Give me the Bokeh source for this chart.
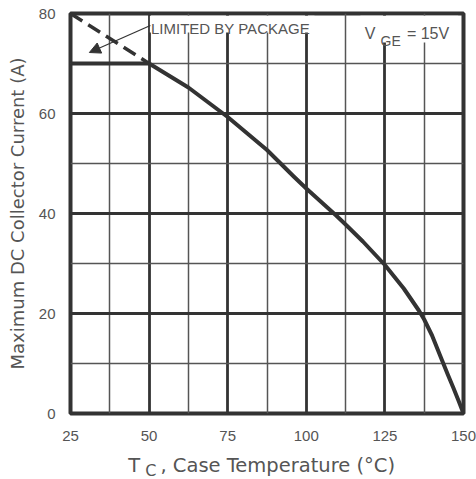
from bokeh.plotting import figure
from bokeh.layouts import column
from bokeh.models import Range1d, FixedTicker, Label, Arrow, NormalHead
from bokeh.embed import file_html
from bokeh.resources import INLINE

# ---- data ----
case_temp_c = [50, 62.5, 75, 87.5, 96, 100, 109.5, 112.5, 118, 125, 131, 135.8,
               137.5, 140, 143.2, 145, 146.8, 148.4, 150]
collector_current_a = [70, 65.2, 59.3, 52.7, 47.4, 45.0, 39.6, 37.8, 34.4, 29.7, 25.0,
                       20.6, 18.8, 15.6, 10.6, 7.8, 5.1, 2.6, 0]
extension_temp_c = [25, 50]
extension_current_a = [80, 70]
package_limit_temp_c = [25, 50]
package_limit_current_a = [70, 70]

x_ticks = [25, 50, 75, 100, 125, 150]
x_minor = [37.5, 62.5, 87.5, 112.5, 137.5]
y_ticks = [0, 20, 40, 60, 80]
y_minor = [10, 30, 50, 70]

INK = "#333333"
TXT = "#555555"

x_range = Range1d(25, 150)
p = figure(width=476, height=445, x_range=x_range, y_range=Range1d(0, 80),
           output_backend="svg", toolbar_location=None,
           min_border_left=70, min_border_right=13, min_border_top=13, min_border_bottom=32)
p.background_fill_color = "white"
p.border_fill_color = "white"
p.outline_line_color = INK
p.outline_line_width = 4

p.xaxis.ticker = FixedTicker(ticks=x_ticks, minor_ticks=x_minor)
p.yaxis.ticker = FixedTicker(ticks=y_ticks, minor_ticks=y_minor)
p.xgrid.ticker = FixedTicker(ticks=x_ticks, minor_ticks=x_minor)
p.ygrid.ticker = FixedTicker(ticks=y_ticks, minor_ticks=y_minor)
for g in (p.xgrid, p.ygrid):
    g.grid_line_color = INK
    g.grid_line_width = 2.8
    g.grid_line_alpha = 1
    g.minor_grid_line_color = "#555555"
    g.minor_grid_line_width = 1.5

for ax in (p.xaxis, p.yaxis):
    ax.axis_line_color = None
    ax.major_tick_line_color = None
    ax.minor_tick_line_color = None
    ax.major_tick_out = 0
    ax.major_label_text_font = "Liberation Sans"
    ax.major_label_text_font_size = "15px"
    ax.major_label_text_color = TXT
p.xaxis.major_label_standoff = 13
p.yaxis.major_label_standoff = 11

p.yaxis.axis_label = "Maximum DC Collector Current (A)"
p.yaxis.axis_label_text_font = "DejaVu Sans"
p.yaxis.axis_label_text_font_size = "18px"
p.yaxis.axis_label_text_font_style = "normal"
p.yaxis.axis_label_text_color = TXT
p.yaxis.axis_label_standoff = 8

# white backgrounds behind the in-plot notes
p.quad(left=[50.25, 117.2], right=[102.6, 148.3], bottom=[76.2, 74.2], top=[79.55, 79.55],
       fill_color="white", line_color=None)

# curves
p.line(case_temp_c, collector_current_a, line_color=INK, line_width=4, line_join="round")
p.line(extension_temp_c, extension_current_a, line_color=INK, line_width=3.5, line_dash="14 7")
p.line(package_limit_temp_c, package_limit_current_a, line_color=INK, line_width=4)

p.add_layout(Arrow(end=NormalHead(size=11, fill_color=INK, line_color=INK, line_width=1),
                   x_start=50.4, y_start=77.6, x_end=31.0, y_end=72.2,
                   line_color=INK, line_width=1.2))

def lab(fig, x, y, text, size, font="Liberation Sans", color=TXT, align="left"):
    fig.add_layout(Label(x=x, y=y, text=text, text_font=font, text_font_size=size,
                         text_color=color, text_align=align, text_baseline="alphabetic"))

lab(p, 50.6, 77.0, "LIMITED BY PACKAGE", "15px")
lab(p, 118.6, 76.0, "V", "16px")
lab(p, 123.6, 74.6, "GE", "14px")
lab(p, 132.0, 76.0, "= 15V", "16px")

# x-axis title strip (allows the subscript)
t = figure(width=476, height=34, x_range=x_range, y_range=Range1d(0, 34),
           output_backend="svg", toolbar_location=None, x_axis_type=None, y_axis_type=None,
           min_border_left=70, min_border_right=13, min_border_top=0, min_border_bottom=0)
t.outline_line_color = None
t.background_fill_color = "white"
t.border_fill_color = "white"
lab(t, 43.4, 14, "T", "19.5px", font="DejaVu Sans")
lab(t, 48.8, 9, "C", "16px", font="DejaVu Sans")
lab(t, 53.6, 14, ", Case Temperature (°C)", "19.5px", font="DejaVu Sans")

layout = column(p, t, spacing=0)
open("out.html", "w").write(file_html(layout, INLINE))
